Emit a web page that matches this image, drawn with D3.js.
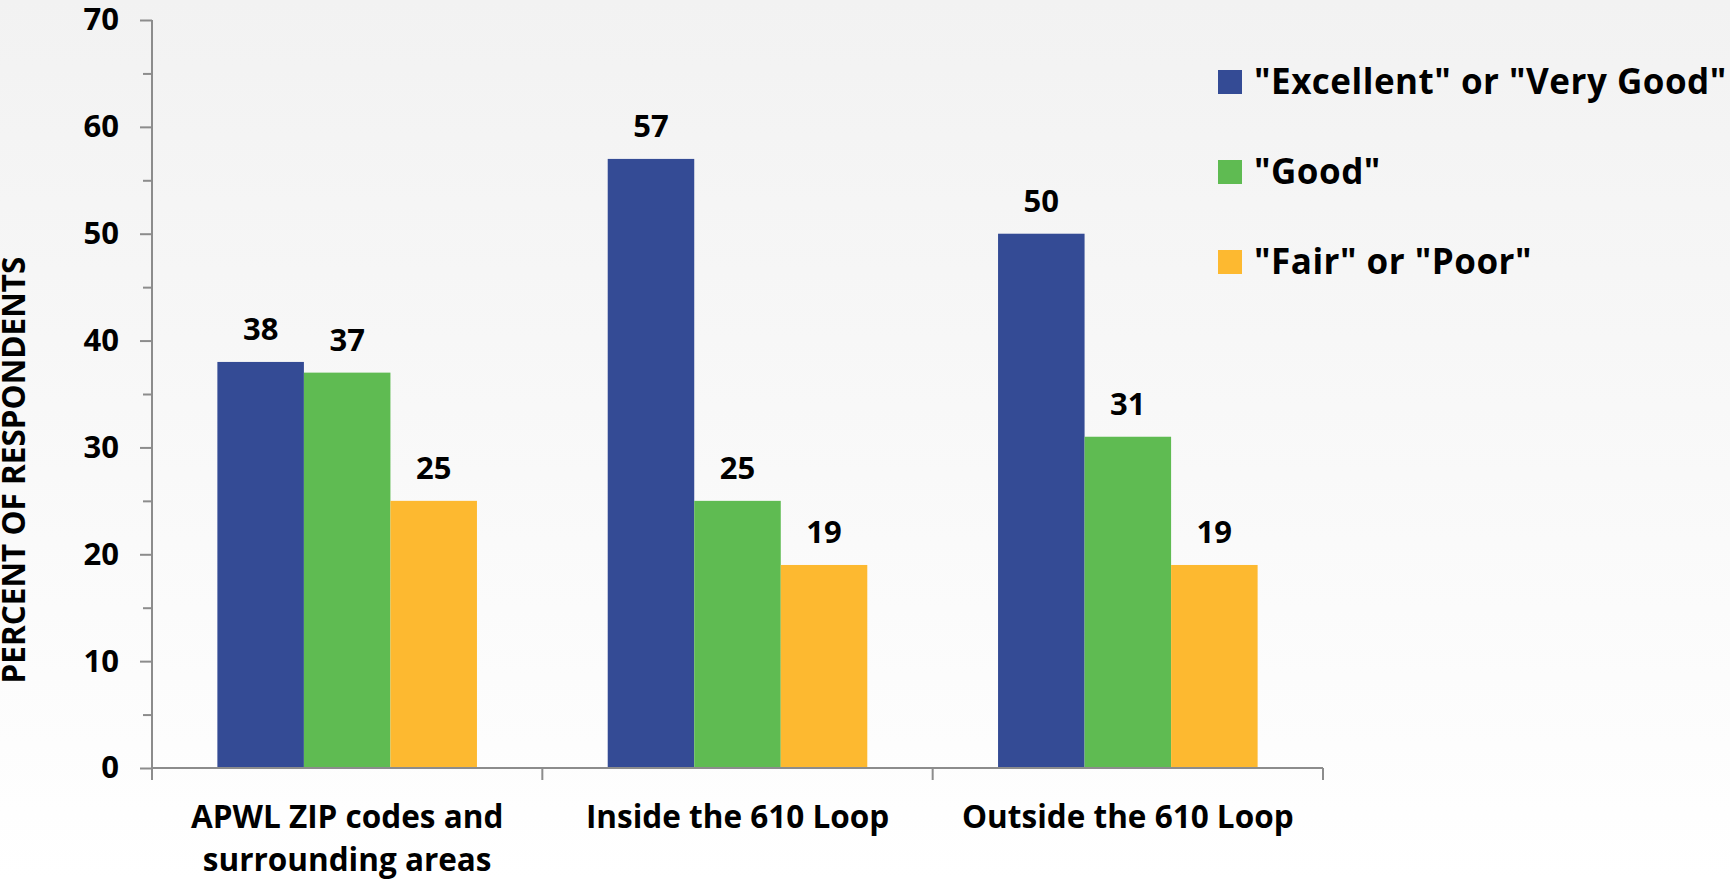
<!DOCTYPE html>
<html>
<head>
<meta charset="utf-8">
<script src="https://cdn.jsdelivr.net/npm/d3@7"></script>
<style>
  html, body { margin: 0; padding: 0; }
  body { width: 1730px; height: 880px; overflow: hidden; }
  svg text { font-family: "Open Sans", Lato, sans-serif; font-weight: 700; fill: #000; }
</style>
</head>
<body>
<svg id="chart" width="1730" height="880"></svg>
<script>
// Survey results: share of respondents by rating, per area
const categories = [["APWL ZIP codes and", "surrounding areas"], ["Inside the 610 Loop"], ["Outside the 610 Loop"]];
const seriesNames = ['"Excellent" or "Very Good"', '"Good"', '"Fair" or "Poor"'];
const seriesColors = ["#344b95", "#5fbb52", "#fdb930"];
const excellentVeryGood = [38, 57, 50];
const good = [37, 25, 31];
const fairPoor = [25, 19, 19];
const yTicks = [0, 10, 20, 30, 40, 50, 60, 70];
const yMinorTicks = [5, 15, 25, 35, 45, 55, 65];
const yTitle = "PERCENT OF RESPONDENTS";

const seriesValues = [excellentVeryGood, good, fairPoor];

const svg = d3.select("#chart");

// soft vertical background shading
const defs = svg.append("defs");
const grad = defs.append("linearGradient").attr("id", "bg").attr("x1", 0).attr("y1", 0).attr("x2", 0).attr("y2", 1);
grad.append("stop").attr("offset", "0%").attr("stop-color", "#f2f2f2");
grad.append("stop").attr("offset", "100%").attr("stop-color", "#ffffff");
svg.append("rect").attr("width", 1730).attr("height", 880).attr("fill", "url(#bg)");

const plot = { left: 152, right: 1323, top: 20, bottom: 768 };

const x = d3.scaleBand()
  .domain(d3.range(categories.length))
  .range([plot.left, plot.right])
  .paddingInner(0).paddingOuter(0);

const groupPad = 0.1675;
const xs = d3.scaleBand()
  .domain(d3.range(seriesNames.length))
  .range([x.bandwidth() * groupPad, x.bandwidth() * (1 - groupPad)])
  .padding(0);

const y = d3.scaleLinear().domain([0, 70]).range([plot.bottom, plot.top]);

const axisColor = "#8c8c8c";

// bars
const groups = svg.append("g").selectAll("g")
  .data(categories.map((c, i) => i))
  .join("g")
  .attr("transform", i => `translate(${x(i)},0)`);

groups.selectAll("rect")
  .data(i => seriesValues.map((vals, s) => ({ s, v: vals[i] })))
  .join("rect")
  .attr("x", d => xs(d.s))
  .attr("y", d => y(d.v))
  .attr("width", xs.bandwidth())
  .attr("height", d => y(0) - y(d.v))
  .attr("fill", d => seriesColors[d.s]);

// value labels
groups.selectAll("text.val")
  .data(i => seriesValues.map((vals, s) => ({ s, v: vals[i] })))
  .join("text")
  .attr("class", "val")
  .attr("x", d => xs(d.s) + xs.bandwidth() / 2)
  .attr("y", d => y(d.v) - 22)
  .attr("text-anchor", "middle")
  .style("font-size", "31px")
  .text(d => d.v);

// y axis
const yAxis = svg.append("g").attr("transform", `translate(${plot.left},0)`)
  .call(d3.axisLeft(y).tickValues(yTicks).tickSize(12).tickPadding(21).tickFormat(d3.format("d")));
yAxis.select(".domain").attr("stroke", axisColor).attr("stroke-width", 2).attr("d", `M0,${plot.top}V${plot.bottom}`);
yAxis.selectAll(".tick line").attr("stroke", axisColor).attr("stroke-width", 2);
yAxis.selectAll(".tick text").style("font-size", "31px").attr("font-family", null).attr("font-size", null);

const yMinor = svg.append("g").attr("transform", `translate(${plot.left},0)`)
  .call(d3.axisLeft(y).tickValues(yMinorTicks).tickSize(9).tickFormat(""));
yMinor.select(".domain").remove();
yMinor.selectAll(".tick line").attr("stroke", axisColor).attr("stroke-width", 2);

// x axis with tick marks at category boundaries
const xAxisG = svg.append("g").attr("transform", `translate(0,${plot.bottom})`);
xAxisG.append("line")
  .attr("x1", plot.left).attr("x2", plot.right)
  .attr("stroke", axisColor).attr("stroke-width", 2);
const boundaries = d3.range(categories.length + 1).map(i => i < categories.length ? x(i) : x(i - 1) + x.bandwidth());
xAxisG.selectAll("line.tk").data(boundaries).join("line")
  .attr("class", "tk")
  .attr("x1", d => d).attr("x2", d => d)
  .attr("y1", 0).attr("y2", 12)
  .attr("stroke", axisColor).attr("stroke-width", 2);

// category labels
const catLabels = svg.append("g").selectAll("text")
  .data(categories.map((c, i) => ({ c, i })))
  .join("text")
  .attr("x", d => x(d.i) + x.bandwidth() / 2)
  .attr("y", 828)
  .attr("text-anchor", "middle")
  .style("font-size", "31.5px");
catLabels.selectAll("tspan")
  .data(d => d.c.map((line, k) => ({ line, k, cx: x(d.i) + x.bandwidth() / 2 })))
  .join("tspan")
  .attr("x", d => d.cx)
  .attr("dy", d => d.k === 0 ? 0 : 43)
  .text(d => d.line);

// y axis title
svg.append("text")
  .attr("transform", "translate(25,470) rotate(-90)")
  .attr("text-anchor", "middle")
  .style("font-size", "31.5px")
  .text(yTitle);

// legend
const legendTop = [70, 160, 250];
const legend = svg.append("g").selectAll("g")
  .data(seriesNames.map((n, i) => ({ n, i })))
  .join("g")
  .attr("transform", d => `translate(1218,${legendTop[d.i]})`);
legend.append("rect").attr("width", 24).attr("height", 24).attr("fill", d => seriesColors[d.i]);
legend.append("text").attr("x", 36).attr("y", 24).style("font-size", "35px").style("letter-spacing", "0.5px").text(d => d.n);
</script>
</body>
</html>
